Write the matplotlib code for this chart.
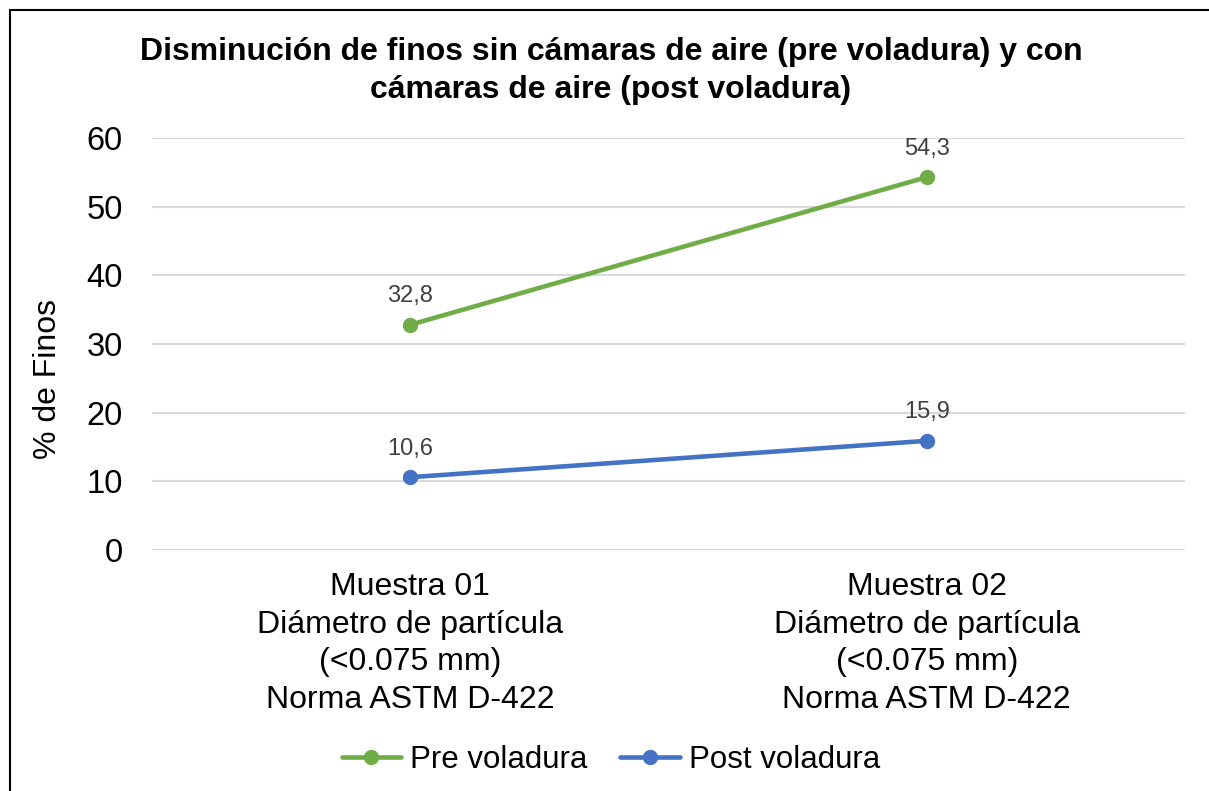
import matplotlib
matplotlib.use("Agg")
import matplotlib.pyplot as plt
from matplotlib.patches import Rectangle

plt.rcParams['font.family'] = ['Liberation Sans', 'DejaVu Sans']

categories = ["Muestra 01\nDiámetro de partícula\n(<0.075 mm)\nNorma ASTM D-422",
              "Muestra 02\nDiámetro de partícula\n(<0.075 mm)\nNorma ASTM D-422"]
pre = [32.8, 54.3]
post = [10.6, 15.9]
series_names = ["Pre voladura", "Post voladura"]
colors = ["#70AD47", "#4472C4"]
yticks = [0, 10, 20, 30, 40, 50, 60]
title = "Disminución de finos sin cámaras de aire (pre voladura) y con\ncámaras de aire (post voladura)"

fig = plt.figure(figsize=(12.09, 7.91), dpi=100)
ax = fig.add_axes([152/1209, 1-550/791, (1185-152)/1209, (550-138)/791])

x = list(range(len(categories)))
for vals, name, c in zip([pre, post], series_names, colors):
    ax.plot(x, vals, color=c, lw=3.3, marker='o', markersize=10, label=name, solid_capstyle='round', zorder=3)
    for xi, v in zip(x, vals):
        ax.annotate(f"{v:.1f}".replace('.', ','), (xi, v), xytext=(0, 12.5), textcoords='offset points',
                    ha='center', va='bottom', fontsize=17, color='#404040')

ax.set_xlim(-0.5, 1.5)
ax.set_ylim(0, 60)
ax.set_yticks(yticks)
ax.set_yticklabels([str(t) for t in yticks], fontsize=23.5)
ax.set_xticks(x)
ax.set_xticklabels(categories, fontsize=23, linespacing=1.33)
ax.tick_params(length=0)
ax.tick_params(axis='y', pad=21)
ax.tick_params(axis='x', pad=16)
ax.grid(axis='y', color='#D9D9D9', lw=1.5)
ax.set_axisbelow(True)
for s in ax.spines.values():
    s.set_visible(False)
ax.set_ylabel("% de Finos", fontsize=23)
ax.yaxis.set_label_coords((63-152)/1033, (550-379)/412)

fig.text(611/1209, 1-71/791, title, ha='center', va='center', fontsize=23, fontweight='bold', linespacing=1.36)

leg = fig.legend(loc='center', bbox_to_anchor=(611/1209, 1-760/791), ncol=2, frameon=False,
                 fontsize=22.5, handlelength=1.9, handletextpad=0.3, columnspacing=1.05)

fig.add_artist(Rectangle((10/1209, -0.1), 1.2, 1 - 10/791 + 0.1, transform=fig.transFigure,
                         fill=False, edgecolor='black', lw=1.5))

fig.savefig("out.png", dpi=100)
